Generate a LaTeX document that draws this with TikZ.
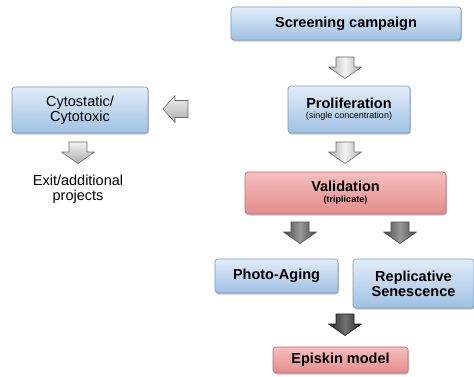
\documentclass[tikz,border=0pt]{standalone}
\usepackage{fontspec}
\setmainfont{Liberation Sans}
\usetikzlibrary{shadows}
\definecolor{boxtop}{RGB}{226,237,249}
\definecolor{boxbot}{RGB}{160,193,228}
\definecolor{boxline}{RGB}{120,150,185}
\definecolor{redtop}{RGB}{246,190,190}
\definecolor{redbot}{RGB}{228,140,140}
\definecolor{redline}{RGB}{185,110,110}
\tikzset{
  bluebox/.style={draw=boxline,line width=0.6pt,rounded corners=3pt,top color=boxtop,bottom color=boxbot,
    drop shadow={shadow xshift=1pt,shadow yshift=-1.5pt,opacity=.45},align=center,inner sep=0pt},
  redbox/.style={bluebox,draw=redline,top color=redtop,bottom color=redbot},
  bigtxt/.style={font=\fontsize{14.5}{15}\selectfont\bfseries},
  plaintxt/.style={font=\fontsize{14.5}{15}\selectfont},
  greyarrow/.style={draw=gray!85!black,line width=0.6pt,line join=round,left color=gray!65,right color=gray!65,middle color=gray!8},
  midarrow/.style={draw=black!70,line width=0.6pt,line join=round,left color=gray!55!black,right color=gray!55!black,middle color=gray!80},
  darkarrow/.style={draw=black!90,line width=0.6pt,line join=round,left color=black!85,right color=black!85,middle color=black!55},
  sidearrow/.style={draw=gray!85!black,line width=0.6pt,line join=round,top color=gray!10,bottom color=gray!65}
}
\newcommand{\smalltxt}[1]{{\fontsize{9}{10}\selectfont #1}}
\newcommand{\downarr}[3][greyarrow]{\draw[#1] (#2,#3) ++(-9,0) -- ++(18,0) -- ++(0,10) -- ++(7.5,0) -- ++(-16.5,11.5) -- ++(-16.5,-11.5) -- ++(7.5,0) -- cycle;}
\begin{document}
\begin{tikzpicture}[x=1pt,y=-1pt]
\useasboundingbox (0,0) rectangle (474,376);
\node[bluebox,bigtxt,minimum width=230pt,minimum height=33pt] (screen) at (346,23.5) {Screening campaign};
\downarr{345}{57}
\node[bluebox,minimum width=122pt,minimum height=47pt] (prolif) at (349,109.5)
  {{\fontsize{14.5}{15}\selectfont\bfseries Proliferation}\\[-2pt]\smalltxt{(single concentration)}};
\draw[sidearrow] (163,109) -- (175,95.5) -- (175,100.5) -- (188,100.5) -- (188,117.5) -- (175,117.5) -- (175,122.5) -- cycle;
\node[bluebox,plaintxt,minimum width=136pt,minimum height=46pt] (cyto) at (80,110) {Cytostatic/\\Cytotoxic};
\downarr[sidearrow]{78}{142}
\node[plaintxt,align=center] (exit) at (78,189) {Exit/additional\\projects};
\downarr{345}{142}
\node[redbox,minimum width=201pt,minimum height=42pt] (valid) at (345.5,193)
  {{\fontsize{14.5}{15}\selectfont\bfseries Validation}\\[-1pt]{\fontsize{9}{10}\selectfont\bfseries (triplicate)}};
\downarr[midarrow]{300}{222}
\downarr[midarrow]{400}{222}
\node[bluebox,bigtxt,minimum width=123pt,minimum height=34pt] (photo) at (276.5,276) {Photo-Aging};
\node[bluebox,bigtxt,minimum width=121pt,minimum height=49pt] (repl) at (413.5,283.5) {Replicative\\Senescence};
\downarr[darkarrow]{345}{314}
\node[redbox,bigtxt,minimum width=135pt,minimum height=26pt] (episkin) at (340.5,360) {Episkin model};
\end{tikzpicture}
\end{document}
